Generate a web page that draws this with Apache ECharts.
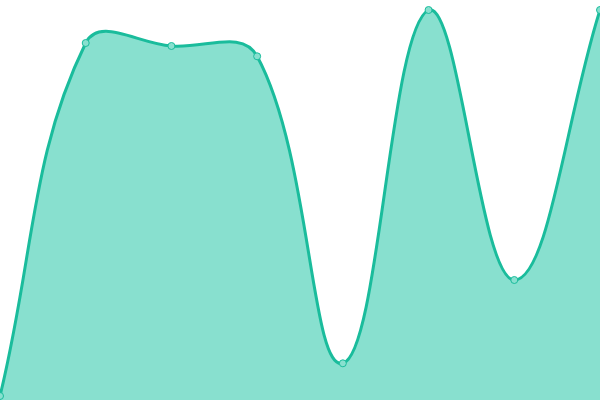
<!DOCTYPE html>
<html><head><meta charset="utf-8">
<script src="https://cdn.jsdelivr.net/npm/echarts@6/dist/echarts.min.js"></script>
<style>html,body{margin:0;padding:0;background:#fff}#c{width:600px;height:400px}</style>
</head><body><div id="c"></div>
<script>
var categories = ['A','B','C','D','E','F','G','H'];
var values = [4, 357, 354, 343.7, 36.7, 390, 120, 390];

var LINE = '#1abc9c';
var FILL = '#88e0cf';
var TENSION = 0.4;

function buildPath(pts, t, area) {
  var cps = pts.map(function (cur, i) {
    var prev = pts[i - 1] || cur, next = pts[i + 1] || cur;
    var d01 = Math.hypot(cur[0] - prev[0], cur[1] - prev[1]);
    var d12 = Math.hypot(next[0] - cur[0], next[1] - cur[1]);
    var s01 = d01 / (d01 + d12), s12 = d12 / (d01 + d12);
    s01 = isNaN(s01) ? 0 : s01; s12 = isNaN(s12) ? 0 : s12;
    var fa = t * s01, fb = t * s12;
    var dx = next[0] - prev[0], dy = next[1] - prev[1];
    function cap(c) {
      return [Math.min(Math.max(c[0], area.x), area.x + area.width),
              Math.min(Math.max(c[1], area.y), area.y + area.height)];
    }
    return {
      prev: cap([cur[0] - fa * dx, cur[1] - fa * dy]),
      next: cap([cur[0] + fb * dx, cur[1] + fb * dy])
    };
  });
  var d = 'M' + pts[0][0] + ' ' + pts[0][1];
  for (var k = 1; k < pts.length; k++) {
    var a = cps[k - 1].next, b = cps[k].prev, p = pts[k];
    d += ' C' + a[0] + ' ' + a[1] + ' ' + b[0] + ' ' + b[1] + ' ' + p[0] + ' ' + p[1];
  }
  return d;
}

var chart = echarts.init(document.getElementById('c'));
chart.setOption({
  animation: false,
  grid: {left: 0, right: 0, top: 0, bottom: 0},
  xAxis: {type: 'category', data: categories, boundaryGap: false, show: false},
  yAxis: {type: 'value', min: 0, max: 400, show: false},
  series: [{
    type: 'custom',
    clip: false,
    data: [0],
    renderItem: function (params, api) {
      var pts = values.map(function (v, i) { return api.coord([i, v]); });
      var base = api.coord([0, 0])[1];
      var line = buildPath(pts, TENSION, params.coordSys);
      var areaPath = line + ' L' + pts[pts.length - 1][0] + ' ' + base + ' L' + pts[0][0] + ' ' + base + ' Z';
      return {
        type: 'group',
        children: [
          {type: 'path', shape: {pathData: areaPath}, style: {fill: FILL, stroke: null}},
          {type: 'path', shape: {pathData: line}, style: {fill: null, stroke: LINE, lineWidth: 3}}
        ]
      };
    }
  }, {
    type: 'scatter',
    z: 5,
    data: values.map(function (v, i) { return [i, v]; }),
    symbol: 'circle',
    symbolSize: 7,
    itemStyle: {color: FILL, borderColor: LINE, borderWidth: 1, opacity: 1}
  }]
});
</script></body></html>
